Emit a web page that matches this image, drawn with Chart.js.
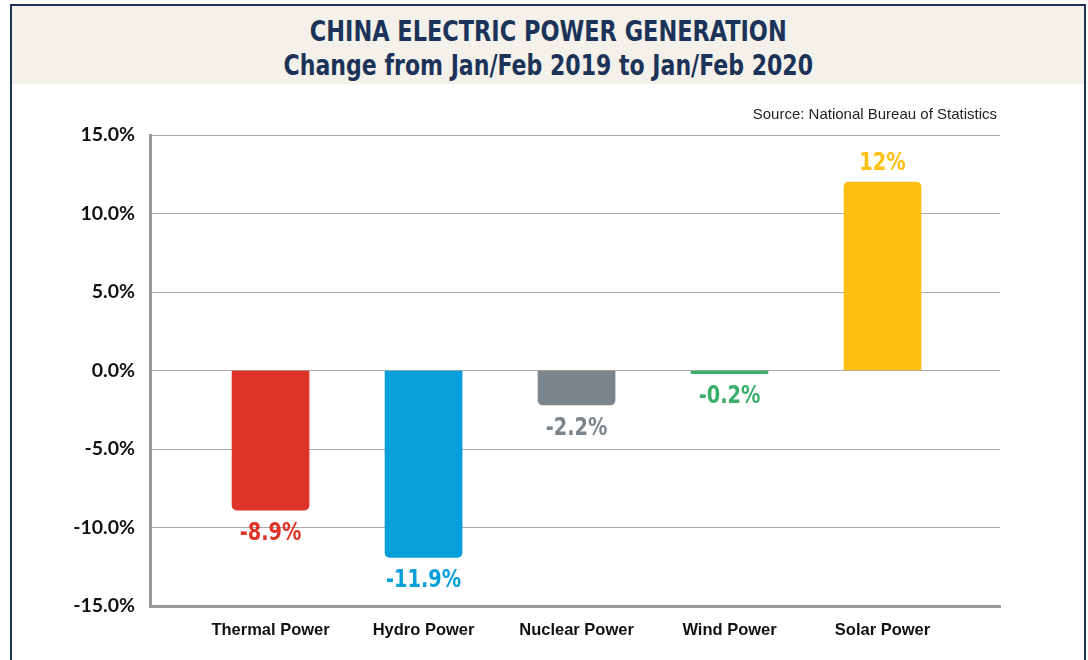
<!DOCTYPE html>
<html>
<head>
<meta charset="utf-8">
<script src="https://cdn.jsdelivr.net/npm/chart.js@4.4.1/dist/chart.umd.min.js"></script>
<style>
  html, body { margin:0; padding:0; background:#fff; width:1088px; height:660px; overflow:hidden; }
  #frame { position:absolute; left:10px; top:4px; width:1076px; height:700px; border:2px solid #1d3456; box-sizing:border-box; }
  #band { position:absolute; left:12px; top:6px; width:1072px; height:78px; background:#f4f1ea; }
  .t { position:absolute; left:12px; width:1072px; text-align:center; color:#1b3358;
       font-family:"DejaVu Sans Condensed","DejaVu Sans",sans-serif; font-weight:bold; font-size:29px; line-height:34px; white-space:nowrap; }
  .t span { display:inline-block; transform-origin:center; }
  #t1 { top:14px; }
  #t1 span { transform:scaleX(0.86); }
  #t2 { top:48px; }
  #t2 span { transform:scaleX(0.845); }
  #wrap { position:absolute; left:0; top:0; width:1088px; height:660px; }
</style>
</head>
<body>
<div id="band"></div>
<div id="frame"></div>
<div class="t" id="t1"><span>CHINA ELECTRIC POWER GENERATION</span></div>
<div class="t" id="t2"><span>Change from Jan/Feb 2019 to Jan/Feb 2020</span></div>
<div id="wrap"><canvas id="c" width="1088" height="660"></canvas></div>
<script>
const categories = ["Thermal Power", "Hydro Power", "Nuclear Power", "Wind Power", "Solar Power"];
const changePct = [-8.9, -11.9, -2.2, -0.2, 12];
const valueLabels = ["-8.9%", "-11.9%", "-2.2%", "-0.2%", "12%"];
const barColors = ["#de3427", "#069fd9", "#7b858b", "#3aae6a", "#fdbf12"];
const yTicks = [-15, -10, -5, 0, 5, 10, 15];
const sourceText = "Source: National Bureau of Statistics";

const labelPlugin = {
  id: 'valueLabels',
  afterDatasetsDraw(chart) {
    const ctx = chart.ctx;
    const meta = chart.getDatasetMeta(0);
    ctx.save();
    ctx.font = 'bold 25px "DejaVu Sans Condensed","DejaVu Sans",sans-serif';
    ctx.textAlign = 'center';
    ctx.textBaseline = 'middle';
    meta.data.forEach((bar, i) => {
      const v = changePct[i];
      ctx.fillStyle = barColors[i];
      const y = v < 0 ? bar.y + 23 : bar.y - 19;
      ctx.save();
      ctx.translate(bar.x, y);
      ctx.scale(0.86, 1);
      ctx.fillText(valueLabels[i], 0, 0);
      ctx.restore();
    });
    ctx.font = '15px "Liberation Sans", Arial, sans-serif';
    ctx.fillStyle = '#222';
    ctx.textAlign = 'right';
    ctx.fillText(sourceText, 997, 115);
    ctx.restore();
  }
};

new Chart(document.getElementById('c'), {
  type: 'bar',
  data: {
    datasets: [{
      data: categories.map((c, i) => ({ x: i, y: changePct[i] })),
      backgroundColor: barColors,
      borderRadius: 5,
      borderSkipped: 'start',
      barThickness: 77
    }]
  },
  options: {
    responsive: false,
    animation: false,
    layout: { padding: { top: 135, right: 88, left: 0, bottom: 0 } },
    plugins: { legend: { display: false }, tooltip: { enabled: false }, title: { display: false } },
    scales: {
      x: {
        type: 'linear',
        offset: false,
        min: -0.788,
        max: 4.768,
        afterBuildTicks(scale) { scale.ticks = categories.map((c, i) => ({ value: i })); },
        afterFit(scale) { scale.height = 54; },
        ticks: {
          autoSkip: false,
          maxRotation: 0,
          padding: 15,
          color: '#111',
          font: { family: '"Liberation Sans", Arial, sans-serif', weight: 'bold', size: 16.5 },
          callback: (v) => categories[v]
        },
        grid: { display: false, drawTicks: false },
        border: { display: true, color: '#999999', width: 3 }
      },
      y: {
        min: -15,
        max: 15,
        afterBuildTicks(scale) { scale.ticks = yTicks.map(v => ({ value: v })); },
        afterFit(scale) { scale.width = 150; },
        ticks: {
          padding: 15,
          color: '#111',
          font: { family: 'Lato, "Liberation Sans", sans-serif', weight: 'bold', size: 19.5 },
          callback: (v) => v.toFixed(1) + '%'
        },
        grid: {
          drawTicks: false,
          color: (ctx) => ctx.tick && ctx.tick.value === -15 ? 'rgba(0,0,0,0)' : '#a8a8a8',
          lineWidth: 1
        },
        border: { display: true, color: '#999999', width: 3 }
      }
    }
  },
  plugins: [labelPlugin]
});
</script>
</body>
</html>
